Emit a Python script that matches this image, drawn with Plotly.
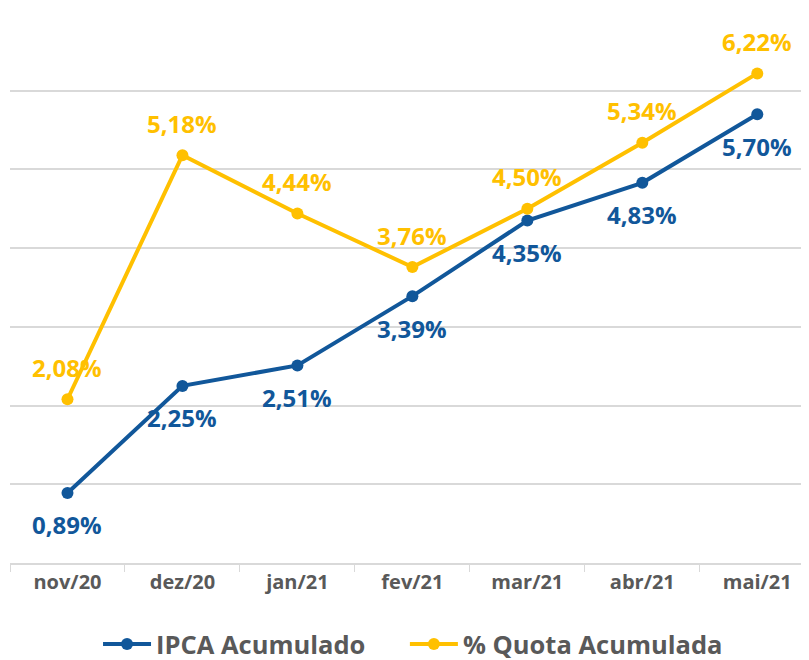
import plotly.graph_objects as go

categories = ["nov/20", "dez/20", "jan/21", "fev/21", "mar/21", "abr/21", "mai/21"]
ipca = [0.89, 2.25, 2.51, 3.39, 4.35, 4.83, 5.70]
quota = [2.08, 5.18, 4.44, 3.76, 4.50, 5.34, 6.22]

BLUE = "#11579A"
YELLOW = "#FFC000"
FONT = "Open Sans"

def fmt(v):
    return f"{v:.2f}".replace(".", ",") + "%"

fig = go.Figure()
fig.add_trace(go.Scatter(x=categories, y=ipca, name="IPCA Acumulado", mode="lines+markers",
                         line=dict(color=BLUE, width=4), marker=dict(size=12, color=BLUE),
                         legend="legend"))
fig.add_trace(go.Scatter(x=categories, y=quota, name="% Quota Acumulada", mode="lines+markers",
                         line=dict(color=YELLOW, width=4), marker=dict(size=12, color=YELLOW),
                         legend="legend2"))

annotations = []
for c, v in zip(categories, ipca):
    annotations.append(dict(x=c, y=v, text=fmt(v), showarrow=False, yshift=-32,
                            font=dict(family=FONT, size=24, color=BLUE, weight="bold")))
for c, v in zip(categories, quota):
    annotations.append(dict(x=c, y=v, text=fmt(v), showarrow=False, yshift=32,
                            font=dict(family=FONT, size=24, color=YELLOW, weight="bold")))

legend_font = dict(family=FONT, size=25.5, color="#595959", weight="bold")

fig.update_layout(
    width=801, height=652,
    margin=dict(l=1.5, r=0, t=4, b=97),
    plot_bgcolor="white", paper_bgcolor="white",
    font=dict(family=FONT),
    annotations=annotations,
    showlegend=True,
    legend=dict(orientation="h", xref="container", x=0.1124, xanchor="left",
                yref="container", y=0.024, yanchor="middle",
                font=legend_font, itemwidth=48),
    legend2=dict(orientation="h", xref="container", x=0.4955, xanchor="left",
                 yref="container", y=0.024, yanchor="middle",
                 font=legend_font, itemwidth=48),
    xaxis=dict(type="category", range=[-0.5, 6.45], showgrid=False,
               showline=True, linecolor="#D9D9D9", linewidth=1.5,
               ticks="outside", tickson="boundaries", ticklen=7, tickcolor="#D9D9D9",
               tickfont=dict(family=FONT, size=20, color="#595959", weight="bold")),
    yaxis=dict(range=[0, 7], dtick=1, showgrid=True, gridcolor="#D9D9D9", gridwidth=1.5,
               showticklabels=False, zeroline=False, fixedrange=True),
)

fig.write_html("out.html")
